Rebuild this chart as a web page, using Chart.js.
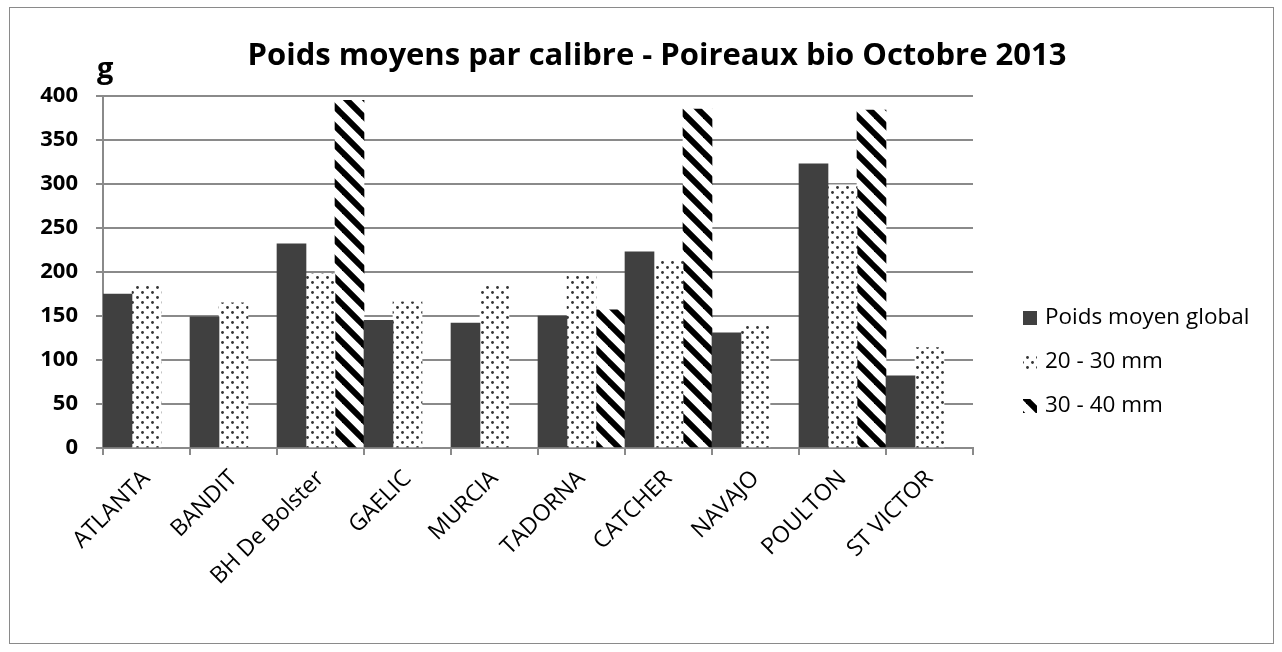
<!DOCTYPE html>
<html>
<head>
<meta charset="utf-8">
<script src="https://cdn.jsdelivr.net/npm/chart.js@4"></script>
<style>
  html, body { margin: 0; padding: 0; background: #fff; }
  #wrap { position: relative; width: 1282px; height: 652px; }
</style>
</head>
<body>
<div id="wrap"><canvas id="chart" width="1282" height="652"></canvas></div>
<script>
const categories = ['ATLANTA', 'BANDIT', 'BH De Bolster', 'GAELIC', 'MURCIA', 'TADORNA', 'CATCHER', 'NAVAJO', 'POULTON', 'ST VICTOR'];
const poidsGlobal = [175, 149, 232, 145, 142, 150, 223, 131, 323, 82];
const calibre2030 = [186, 165, 198, 166, 185, 195, 213, 140, 299, 114];
const calibre3040 = [null, null, 395, null, null, 157, 385, null, 384, null];
const seriesNames = ['Poids moyen global', '20 - 30 mm', '30 - 40 mm'];
const yTicks = [0, 50, 100, 150, 200, 250, 300, 350, 400];

const FONT = "'Open Sans', 'Liberation Sans', sans-serif";

// motif pointillé
function dotPattern() {
    const c = document.createElement('canvas');
    c.width = 10; c.height = 10;
    const g = c.getContext('2d');
    g.fillStyle = '#fff';
    g.fillRect(0, 0, 10, 10);
    g.fillStyle = '#333';
    g.beginPath(); g.arc(2.5, 2.5, 1.4, 0, Math.PI * 2); g.fill();
    g.beginPath(); g.arc(7.5, 7.5, 1.4, 0, Math.PI * 2); g.fill();
    return g.createPattern(c, 'repeat');
}

// motif hachuré "\"
function stripePattern() {
    const s = 19;
    const c = document.createElement('canvas');
    c.width = s; c.height = s;
    const g = c.getContext('2d');
    g.fillStyle = '#fff';
    g.fillRect(0, 0, s, s);
    g.strokeStyle = '#000';
    g.lineWidth = 6;
    for (let k = -1; k <= 1; k++) {
        g.beginPath();
        g.moveTo(-2, k * s - 2);
        g.lineTo(s + 2, k * s + s + 2);
        g.stroke();
    }
    return g.createPattern(c, 'repeat');
}

const fills = ['#404040', dotPattern(), stripePattern()];

const decorations = {
    id: 'decorations',
    beforeDraw(chart) {
        const ctx = chart.ctx;
        ctx.save();
        ctx.fillStyle = '#fff';
        ctx.fillRect(0, 0, chart.width, chart.height);
        ctx.strokeStyle = '#8a8a8a';
        ctx.lineWidth = 1;
        ctx.strokeRect(9.5, 7.5, 1264, 636);
        ctx.restore();
    },
    afterDraw(chart) {
        const ctx = chart.ctx;
        ctx.save();
        ctx.fillStyle = '#000';
        ctx.textBaseline = 'middle';
        ctx.textAlign = 'center';
        ctx.font = 'bold 31px ' + FONT;
        ctx.fillText('Poids moyens par calibre - Poireaux bio Octobre 2013', 657, 56);
        ctx.textAlign = 'left';
        ctx.textBaseline = 'alphabetic';
        ctx.font = 'bold 29px ' + FONT;
        ctx.fillText('g', 97, 78);

        // légende
        ctx.textBaseline = 'middle';
        ctx.font = '22.5px ' + FONT;
        chart.data.datasets.forEach((ds, i) => {
            const y = 318 + i * 44;
            ctx.fillStyle = ds.backgroundColor;
            ctx.fillRect(1023, y - 7, 14, 14);
            ctx.fillStyle = '#000';
            ctx.fillText(ds.label, 1045, y);
        });
        ctx.restore();
    }
};

new Chart(document.getElementById('chart'), {
    type: 'bar',
    data: {
        labels: categories,
        datasets: [poidsGlobal, calibre2030, calibre3040].map((d, i) => ({
            label: seriesNames[i],
            data: d,
            backgroundColor: fills[i],
            borderWidth: 0,
            categoryPercentage: 1.0,
            barPercentage: 1.0,
            skipNull: false
        }))
    },
    options: {
        responsive: false,
        animation: false,
        events: [],
        layout: { padding: { left: 0, right: 309, top: 96, bottom: 0 } },
        plugins: {
            legend: { display: false },
            title: { display: false },
            tooltip: { enabled: false }
        },
        scales: {
            x: {
                grid: { drawOnChartArea: false, color: '#8a8a8a', lineWidth: 2, tickLength: 7, offset: true },
                border: { color: '#8a8a8a', width: 2 },
                ticks: {
                    color: '#000',
                    font: { family: FONT, size: 23 },
                    maxRotation: 45,
                    minRotation: 45,
                    padding: 10
                },
                afterFit(scale) { scale.height = 204; }
            },
            y: {
                min: 0,
                max: 400,
                afterBuildTicks(scale) { scale.ticks = yTicks.map(v => ({ value: v })); },
                grid: { color: '#8a8a8a', lineWidth: 2, tickLength: 7 },
                border: { color: '#8a8a8a', width: 2 },
                ticks: {
                    color: '#000',
                    font: { family: FONT, size: 22, weight: 'bold' },
                    padding: 18
                },
                afterFit(scale) { scale.width = 103; }
            }
        }
    },
    plugins: [decorations]
});
</script>
</body>
</html>
